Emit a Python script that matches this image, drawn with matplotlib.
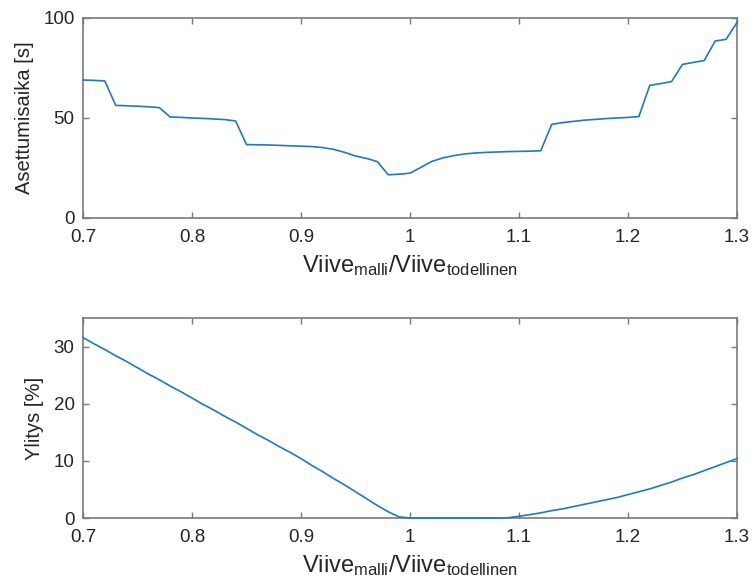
import numpy as np
import matplotlib
matplotlib.use('Agg')
import matplotlib.pyplot as plt

plt.rcParams['font.family'] = ['Liberation Sans', 'DejaVu Sans']
plt.rcParams['mathtext.fontset'] = 'custom'
plt.rcParams['mathtext.rm'] = 'Liberation Sans'
plt.rcParams['mathtext.it'] = 'Liberation Sans'

# Viive-suhde (malli / todellinen)
ratio = np.round(np.arange(0.70, 1.3001, 0.01), 2)

# Asettumisaika [s]
settling = [69.0, 68.8, 68.5, 56.3, 56.1, 55.9, 55.6, 55.2, 50.5, 50.3,
            50.0, 49.8, 49.5, 49.2, 48.5, 36.7, 36.6, 36.5, 36.3, 36.1,
            35.9, 35.7, 35.2, 34.3, 32.8, 31.0, 29.8, 28.2, 21.6, 21.9,
            22.4, 25.3, 28.3, 30.0, 31.2, 32.0, 32.5, 32.8, 33.0, 33.2,
            33.3, 33.4, 33.6, 46.8, 47.7, 48.3, 48.9, 49.3, 49.7, 50.0,
            50.3, 50.7, 66.3, 67.2, 68.2, 76.8, 77.8, 78.7, 88.5, 89.3,
            97.7]

# Ylitys [%]
overshoot = [31.6, 30.5, 29.5, 28.4, 27.4, 26.3, 25.2, 24.2, 23.1, 22.1,
             21.0, 19.9, 18.9, 17.8, 16.8, 15.7, 14.6, 13.6, 12.5, 11.5,
             10.4, 9.2, 8.1, 6.9, 5.8, 4.6, 3.4, 2.2, 1.1, 0.2,
             0.0, 0.0, 0.0, 0.0, 0.0, 0.0, 0.0, 0.0, 0.0, 0.05,
             0.3, 0.6, 0.9, 1.3, 1.6, 2.0, 2.4, 2.8, 3.2, 3.6,
             4.1, 4.6, 5.1, 5.7, 6.3, 7.0, 7.6, 8.3, 9.0, 9.7,
             10.4]

xticks = [0.7, 0.8, 0.9, 1.0, 1.1, 1.2, 1.3]
xticklabels = ['0.7', '0.8', '0.9', '1', '1.1', '1.2', '1.3']

line_color = '#1a7acb'
text_color = '#262626'
box_color = '#7a7a7a'
xlabel = r'Viive$_{\mathrm{malli}}$/Viive$_{\mathrm{todellinen}}$'

fig = plt.figure(figsize=(7.52, 5.88), dpi=100)
ax1 = fig.add_axes([0.1104, 0.6293, 0.8696, 0.3401])
ax2 = fig.add_axes([0.1104, 0.1190, 0.8696, 0.3401])

def style(ax):
    ax.set_xlim(0.7, 1.3)
    ax.set_xticks(xticks)
    ax.set_xticklabels(xticklabels)
    ax.tick_params(direction='in', top=True, right=True, length=4,
                   width=1.0, color=box_color, labelcolor=text_color,
                   labelsize=13.5)
    ax.tick_params(axis='x', pad=8)
    ax.tick_params(axis='y', pad=6)
    for s in ax.spines.values():
        s.set_color(box_color)
        s.set_linewidth(1.2)
    ax.set_xlabel(xlabel, fontsize=17, color=text_color, labelpad=5)

ax1.plot(ratio, settling, color=line_color, linewidth=1.2,
         zorder=3, clip_on=False)
ax1.set_ylim(0, 100)
ax1.set_yticks([0, 50, 100])
ax1.set_ylabel('Asettumisaika [s]', fontsize=14.5, color=text_color, labelpad=7)
style(ax1)

ax2.plot(ratio, overshoot, color=line_color, linewidth=1.2,
         zorder=3, clip_on=False)
ax2.set_ylim(0, 35)
ax2.set_yticks([0, 10, 20, 30])
ax2.set_ylabel('Ylitys [%]', fontsize=14.5, color=text_color, labelpad=7)
style(ax2)

fig.savefig('out.png', dpi=100)
